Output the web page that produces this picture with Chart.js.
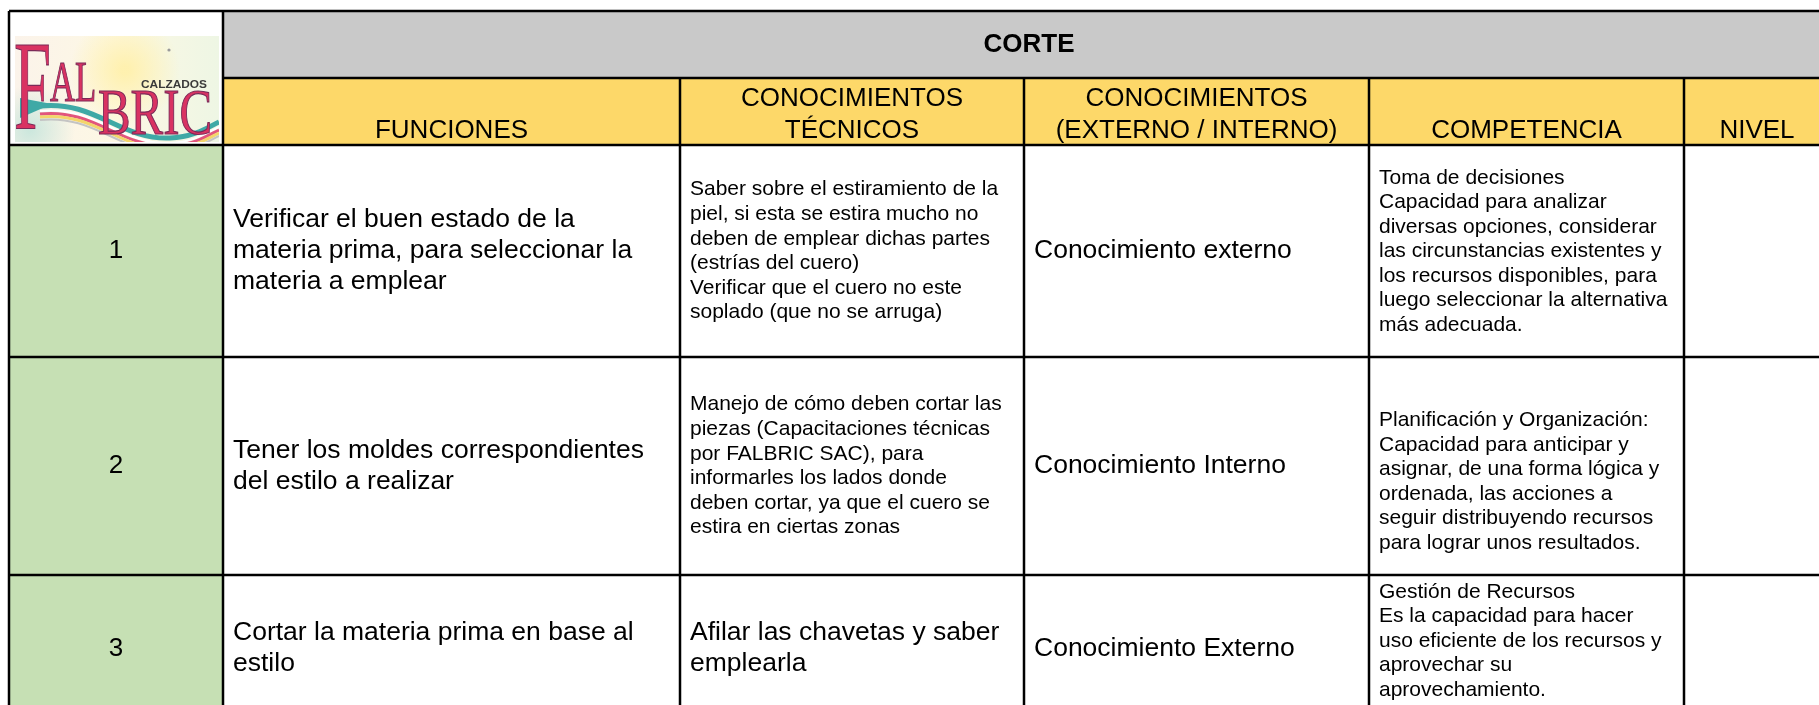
<!DOCTYPE html>
<html>
<head>
<meta charset="utf-8">
<script src="https://cdn.jsdelivr.net/npm/chart.js@4.4.1/dist/chart.umd.min.js"></script>
<style>
  html, body { margin: 0; padding: 0; background: #fff; }
  canvas { display: block; }
</style>
</head>
<body>
<canvas id="tabla" width="1819" height="705"></canvas>
<script>
// contenido de la tabla
const titulo = 'CORTE';
const encabezados = [['FUNCIONES'], ['CONOCIMIENTOS', 'TÉCNICOS'], ['CONOCIMIENTOS', '(EXTERNO / INTERNO)'], ['COMPETENCIA'], ['NIVEL']];
const numeros = ['1', '2', '3'];
const funciones = [
    ['Verificar el buen estado de la', 'materia prima, para seleccionar la', 'materia a emplear'],
    ['Tener los moldes correspondientes', 'del estilo a realizar'],
    ['Cortar la materia prima en base al', 'estilo']
];
const tecnicos = [
    ['Saber sobre el estiramiento de la', 'piel, si esta se estira mucho no', 'deben de emplear dichas partes', '(estrías del cuero)', 'Verificar que el cuero no este', 'soplado (que no se arruga)'],
    ['Manejo de cómo deben cortar las', 'piezas (Capacitaciones técnicas', 'por FALBRIC SAC), para', 'informarles los lados donde', 'deben cortar, ya que el cuero se', 'estira en ciertas zonas'],
    ['Afilar las chavetas y saber', 'emplearla']
];
const tipoConocimiento = [['Conocimiento externo'], ['Conocimiento Interno'], ['Conocimiento Externo']];
const competencias = [
    ['Toma de decisiones', 'Capacidad para analizar', 'diversas opciones, considerar', 'las circunstancias existentes y', 'los recursos disponibles, para', 'luego seleccionar la alternativa', 'más adecuada.'],
    ['Planificación y Organización:', 'Capacidad para anticipar y', 'asignar, de una forma lógica y', 'ordenada, las acciones a', 'seguir distribuyendo recursos', 'para lograr unos resultados.'],
    ['Gestión de Recursos', 'Es la capacidad para hacer', 'uso eficiente de los recursos y', 'aprovechar su', 'aprovechamiento.']
];
const niveles = [[], [], []];

// geometria de la hoja, en unidades de los ejes
const colBordes = [9, 223, 680, 1024, 1369, 1684, 1830];
const filaBordes = [11, 78, 145, 357, 575, 722];
const FONT = '"Liberation Sans", Arial, sans-serif';
const SERIF = '"Liberation Serif", "Times New Roman", serif';

function textoCelda(ctx, lineas, x0, x1, yc, size, align) {
    const lh = size * 1.17;
    ctx.font = size + 'px ' + FONT;
    ctx.fillStyle = '#000';
    ctx.textBaseline = 'middle';
    ctx.textAlign = align;
    lineas.forEach((t, i) => {
        const y = yc + (i - (lineas.length - 1) / 2) * lh;
        const x = align === 'center' ? (x0 + x1) / 2 : x0 + 10;
        ctx.fillText(t, x, y);
    });
}

// alineado abajo, como la columna de competencias en la hoja
function textoAbajo(ctx, lineas, x0, yb, size) {
    const lh = size * 1.17;
    ctx.font = size + 'px ' + FONT;
    ctx.fillStyle = '#000';
    ctx.textBaseline = 'alphabetic';
    ctx.textAlign = 'left';
    lineas.forEach((t, i) => {
        ctx.fillText(t, x0 + 10, yb - 26 - (lineas.length - 1 - i) * lh);
    });
}

function letra(ctx, t, x, y, font, sx, fill, stroke) {
    ctx.save();
    ctx.translate(x, y);
    ctx.scale(sx, 1);
    ctx.font = font;
    ctx.textAlign = 'left';
    ctx.textBaseline = 'alphabetic';
    ctx.fillStyle = fill;
    ctx.fillText(t, 0, 0);
    if (stroke) {
        ctx.strokeStyle = stroke;
        ctx.lineWidth = 1.2;
        ctx.strokeText(t, 0, 0);
    }
    ctx.restore();
}

function dibujaLogo(ctx, px, py) {
    ctx.save();
    const x0 = px(15), y0 = py(36), w = px(219) - x0, h = py(142) - y0;
    ctx.beginPath();
    ctx.rect(x0, y0, w, h);
    ctx.clip();
    let g = ctx.createLinearGradient(x0, 0, x0 + w, 0);
    g.addColorStop(0, '#fbf3ea');
    g.addColorStop(0.5, '#fdf8e4');
    g.addColorStop(1, '#eef6e4');
    ctx.fillStyle = g;
    ctx.fillRect(x0, y0, w, h);
    g = ctx.createRadialGradient(px(125), py(70), 4, px(125), py(70), 55);
    g.addColorStop(0, 'rgba(255,240,170,0.9)');
    g.addColorStop(1, 'rgba(255,240,170,0)');
    ctx.fillStyle = g;
    ctx.fillRect(x0, y0, w, h);
    g = ctx.createRadialGradient(px(30), py(130), 2, px(30), py(130), 45);
    g.addColorStop(0, 'rgba(200,230,220,0.9)');
    g.addColorStop(1, 'rgba(200,230,220,0)');
    ctx.fillStyle = g;
    ctx.fillRect(x0, y0, w, h);

    // cinta ondulada
    const ondas = [['#3fa9a6', 0, 5], ['#ffffff', 5, 2], ['#e2557d', 8, 3], ['#f3d56b', 11, 3], ['#c4c4c4', 14, 2]];
    ondas.forEach(([c, d, lw]) => {
        ctx.strokeStyle = c;
        ctx.lineWidth = lw;
        ctx.beginPath();
        ctx.moveTo(px(40), py(106 + d));
        ctx.bezierCurveTo(px(95), py(100 + d), px(120), py(140 + d), px(170), py(138 + d));
        ctx.bezierCurveTo(px(195), py(137 + d), px(210), py(126 + d), px(219), py(122 + d));
        ctx.stroke();
    });
    ctx.fillStyle = '#3fa9a6';
    ctx.beginPath();
    ctx.moveTo(px(20), py(98));
    ctx.lineTo(px(52), py(104));
    ctx.lineTo(px(20), py(118));
    ctx.closePath();
    ctx.fill();

    letra(ctx, 'F', px(14), py(128), '128px ' + SERIF, 0.52, '#d93262', '#7b2a58');
    letra(ctx, 'AL', px(50), py(101), '56px ' + SERIF, 0.62, '#d93262', '#7b2a58');
    letra(ctx, 'BRIC', px(98), py(134), '66px ' + SERIF, 0.74, '#d93262', '#7b2a58');
    ctx.font = 'bold 10px ' + FONT;
    const wc = ctx.measureText('CALZADOS').width;
    letra(ctx, 'CALZADOS', px(141), py(88), 'bold 10px ' + FONT, (px(207) - px(141)) / wc, '#3a3a3a');
    ctx.fillStyle = '#9a9a9a';
    ctx.beginPath();
    ctx.arc(px(169), py(50), 1.6, 0, Math.PI * 2);
    ctx.fill();
    ctx.restore();
}

const tablaPlugin = {
    id: 'tabla',
    afterDraw(chart) {
        const ctx = chart.ctx;
        const px = v => chart.scales.x.getPixelForValue(v);
        const py = v => chart.scales.y.getPixelForValue(v);
        const C = colBordes, R = filaBordes;
        ctx.save();

        // fondos
        ctx.fillStyle = '#c9c9c9';
        ctx.fillRect(px(C[1]), py(R[0]), px(C[6]) - px(C[1]), py(R[1]) - py(R[0]));
        ctx.fillStyle = '#fdd869';
        ctx.fillRect(px(C[1]), py(R[1]), px(C[6]) - px(C[1]), py(R[2]) - py(R[1]));
        ctx.fillStyle = '#c6e0b4';
        ctx.fillRect(px(C[0]), py(R[2]), px(C[1]) - px(C[0]), py(R[5]) - py(R[2]));

        dibujaLogo(ctx, px, py);

        // titulo
        ctx.fillStyle = '#000';
        ctx.font = 'bold 26px ' + FONT;
        ctx.textAlign = 'center';
        ctx.textBaseline = 'middle';
        ctx.fillText(titulo, px(1029), py((R[0] + R[1]) / 2));

        // encabezados, alineados abajo
        ctx.font = '26px ' + FONT;
        ctx.textBaseline = 'alphabetic';
        encabezados.forEach((lin, j) => {
            const xc = (px(C[j + 1]) + px(C[j + 2])) / 2;
            lin.forEach((t, i) => {
                ctx.fillText(t, xc, py(R[2] - 7) - (lin.length - 1 - i) * 32);
            });
        });

        // cuerpo
        numeros.forEach((n, r) => {
            const yc = (py(R[r + 2]) + py(R[r + 3])) / 2;
            textoCelda(ctx, [n], px(C[0]), px(C[1]), yc, 26, 'center');
            textoCelda(ctx, funciones[r], px(C[1]), px(C[2]), yc, 26.5, 'left');
            textoCelda(ctx, tecnicos[r], px(C[2]), px(C[3]), yc, tecnicos[r].length > 3 ? 21 : 26.5, 'left');
            textoCelda(ctx, tipoConocimiento[r], px(C[3]), px(C[4]), yc, 26.5, 'left');
            textoAbajo(ctx, competencias[r], px(C[4]), py(R[r + 3]), 21);
            textoCelda(ctx, niveles[r], px(C[5]), px(C[6]), yc, 26, 'center');
        });

        // bordes
        ctx.strokeStyle = '#000';
        ctx.lineWidth = 2.5;
        const linea = (x0, y0, x1, y1) => {
            ctx.beginPath();
            ctx.moveTo(px(x0), py(y0));
            ctx.lineTo(px(x1), py(y1));
            ctx.stroke();
        };
        linea(C[0], R[0], C[6], R[0]);
        linea(C[1], R[1], C[6], R[1]);
        R.slice(2).forEach(y => linea(C[0], y, C[6], y));
        linea(C[0], R[0], C[0], R[5]);
        linea(C[1], R[0], C[1], R[5]);
        C.slice(2, 6).forEach(x => linea(x, R[1], x, R[5]));
        ctx.restore();
    }
};

new Chart(document.getElementById('tabla'), {
    type: 'scatter',
    data: { datasets: [{ data: [] }] },
    options: {
        responsive: false,
        animation: false,
        layout: { padding: 0 },
        plugins: { legend: { display: false }, tooltip: { enabled: false } },
        scales: {
            x: { type: 'linear', min: 0, max: 1819, display: false },
            y: { type: 'linear', min: 0, max: 705, reverse: true, display: false }
        }
    },
    plugins: [tablaPlugin]
});
</script>
</body>
</html>
